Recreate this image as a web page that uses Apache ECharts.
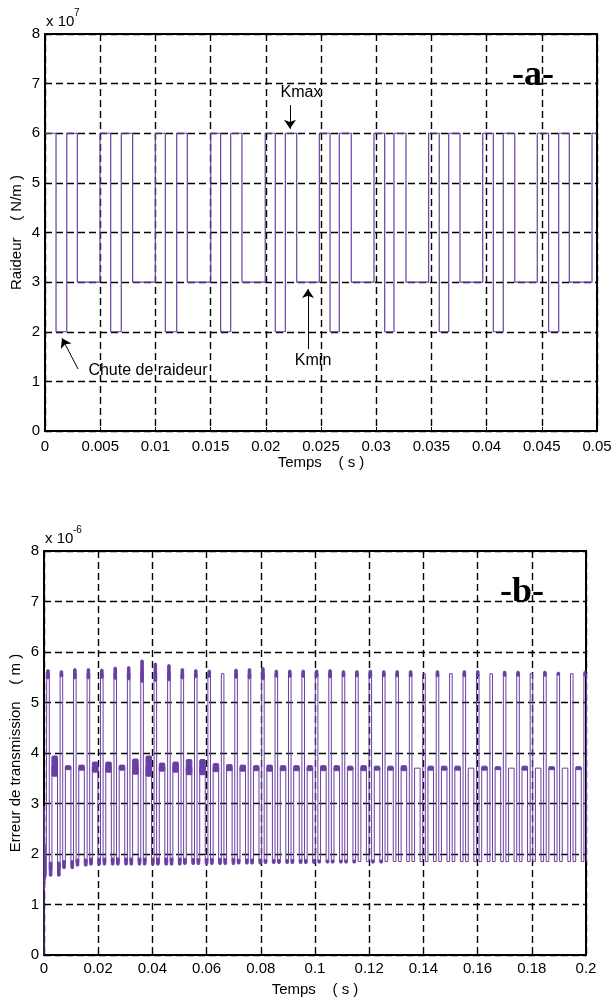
<!DOCTYPE html>
<html>
<head>
<meta charset="utf-8">
<script src="https://cdn.jsdelivr.net/npm/echarts@6/dist/echarts.min.js"></script>
<style>
  html, body { margin: 0; padding: 0; background: #fff; }
  #chart { width: 613px; height: 1001px; }
</style>
</head>
<body>
<div id="chart"></div>
<script>
// ---- (a) mesh stiffness, units of 1e7 N/m ----
// switching instants (s) and the level held from each instant on
const stiffTimes = [
  0.00000, 0.00100, 0.00197, 0.00293,
  0.00498, 0.00595, 0.00691, 0.00794,
  0.00999, 0.01090, 0.01193, 0.01289,
  0.01501, 0.01591, 0.01682, 0.01784,
  0.01995, 0.02086, 0.02177, 0.02280,
  0.02485, 0.02582, 0.02666, 0.02774,
  0.02980, 0.03077, 0.03161, 0.03270,
  0.03475, 0.03571, 0.03657, 0.03759,
  0.03965, 0.04061, 0.04151, 0.04255,
  0.04459, 0.04562, 0.04653, 0.04749,
  0.04955, 0.05000
];
const stiffLevels = [
  6, 2, 6, 3,
  6, 2, 6, 3,
  6, 2, 6, 3,
  6, 2, 6, 3,
  6, 2, 6, 3,
  6, 2, 6, 3,
  6, 2, 6, 3,
  6, 2, 6, 3,
  6, 2, 6, 3,
  6, 2, 6, 3,
  6, 6
];

// ---- (b) transmission error, units of 1e-6 m ----
// start-up transient before the first mesh pulse (ms, value)
const errTransientMs = [0, 0.05, 0.12, 0.20, 0.28, 0.37, 0.47, 0.58, 0.70, 0.85];
const errTransientV  = [0, 2.95, 1.30, 2.45, 1.40, 2.20, 1.50, 1.95, 1.55, 1.65];
// start of each high pulse (ms)
const errPulseStartMs = [
  1.00, 5.95, 10.90, 15.91, 20.86, 25.82, 30.77, 35.71, 40.61, 45.62,
  50.57, 55.53, 60.48, 65.44, 70.39, 75.35, 80.30, 85.26, 90.21, 95.17,
  100.12, 105.08, 110.03, 114.99, 119.94, 124.90, 129.85, 134.81, 139.76, 144.72,
  149.67, 154.63, 159.58, 164.54, 169.49, 174.45, 179.40, 184.36, 189.31, 194.27,
  199.22
];
// pulse end, middle plateau start, middle plateau end (ms after pulse start)
const errPhaseMs = [0.95, 1.93, 3.98];
// plateau levels per mesh cycle
const errPeak = [
  5.56, 5.57, 5.57, 5.57, 5.57, 5.58, 5.58, 5.62, 5.60, 5.59,
  5.57, 5.57, 5.57, 5.57, 5.57, 5.57, 5.57, 5.57, 5.57, 5.57,
  5.57, 5.57, 5.57, 5.57, 5.57, 5.57, 5.57, 5.57, 5.57, 5.57,
  5.57, 5.57, 5.57, 5.57, 5.57, 5.57, 5.57, 5.57, 5.57, 5.57,
  5.57
];
const errMid = [
  3.74, 3.71, 3.71, 3.72, 3.72, 3.71, 3.73, 3.74, 3.72, 3.72,
  3.72, 3.72, 3.71, 3.71, 3.70, 3.70, 3.70, 3.70, 3.70, 3.70,
  3.70, 3.70, 3.70, 3.70, 3.70, 3.70, 3.70, 3.70, 3.70, 3.70,
  3.70, 3.70, 3.70, 3.70, 3.70, 3.70, 3.70, 3.70, 3.70, 3.70,
  3.70
];
const errLow = [
  1.70, 1.79, 1.83, 1.85, 1.85, 1.85, 1.85, 1.85, 1.85, 1.85,
  1.85, 1.85, 1.85, 1.85, 1.85, 1.85, 1.85, 1.85, 1.85, 1.85,
  1.85, 1.85, 1.85, 1.85, 1.85, 1.85, 1.85, 1.85, 1.85, 1.85,
  1.85, 1.85, 1.85, 1.85, 1.85, 1.85, 1.85, 1.85, 1.85, 1.85,
  1.85
];
// half-amplitude of the ringing on each plateau
const errPeakRing = [
  0.09, 0.06, 0.10, 0.10, 0.09, 0.12, 0.13, 0.22, 0.18, 0.16,
  0.10, 0.08, 0.07, 0.00, 0.09, 0.10, 0.12, 0.07, 0.07, 0.07,
  0.07, 0.08, 0.06, 0.06, 0.07, 0.06, 0.06, 0.06, 0.00, 0.06,
  0.00, 0.06, 0.06, 0.00, 0.05, 0.05, 0.00, 0.05, 0.03, 0.00,
  0.05
];
const errMidRing = [
  0.20, 0.04, 0.05, 0.10, 0.10, 0.05, 0.15, 0.20, 0.08, 0.10,
  0.15, 0.15, 0.08, 0.06, 0.06, 0.05, 0.06, 0.05, 0.05, 0.05,
  0.05, 0.05, 0.04, 0.05, 0.04, 0.04, 0.05, 0.00, 0.04, 0.04,
  0.04, 0.00, 0.04, 0.03, 0.00, 0.04, 0.00, 0.03, 0.00, 0.03,
  0.00
];
const errLowRing = [
  0.14, 0.08, 0.07, 0.07, 0.07, 0.07, 0.07, 0.07, 0.07, 0.07,
  0.06, 0.06, 0.06, 0.06, 0.05, 0.05, 0.04, 0.04, 0.04, 0.04,
  0.03, 0.03, 0.03, 0.00, 0.03, 0.00, 0.00, 0.00, 0.00, 0.00,
  0.00, 0.00, 0.00, 0.00, 0.00, 0.00, 0.00, 0.00, 0.00, 0.00,
  0.00
];

// ---- tick labels ----
const xTickLabelsA = ['0', '0.005', '0.01', '0.015', '0.02', '0.025', '0.03', '0.035', '0.04', '0.045', '0.05'];
const xTickLabelsB = ['0', '0.02', '0.04', '0.06', '0.08', '0.1', '0.12', '0.14', '0.16', '0.18', '0.2'];
const yTickLabels = ['0', '1', '2', '3', '4', '5', '6', '7', '8'];

// ---- build the step curves ----
const stiffData = [];
for (let i = 0; i < stiffTimes.length; i++) {
  if (i > 0) stiffData.push([stiffTimes[i], stiffLevels[i - 1]]);
  stiffData.push([stiffTimes[i], stiffLevels[i]]);
}

const errData = [];
for (let i = 0; i < errTransientMs.length; i++) {
  errData.push([errTransientMs[i] / 1000, errTransientV[i]]);
}
let level = errTransientV[errTransientV.length - 1];
const blobs = [];
function addBlob(t0, t1, v, r) {
  if (r > 0) blobs.push([t0 / 1000, t1 / 1000, v - r, v + r]);
}
for (let k = 0; k < errPulseStartMs.length; k++) {
  const p = errPulseStartMs[k];
  const next = k + 1 < errPulseStartMs.length ? errPulseStartMs[k + 1] : p + 4.955;
  const edges = [
    [p, errPeak[k]],
    [p + errPhaseMs[0], errLow[k]],
    [p + errPhaseMs[1], errMid[k]],
    [p + errPhaseMs[2], errLow[k]]
  ];
  for (const [t, v] of edges) {
    errData.push([t / 1000, level]);
    errData.push([t / 1000, v]);
    level = v;
  }
  addBlob(p, p + errPhaseMs[0], errPeak[k], errPeakRing[k]);
  addBlob(p + errPhaseMs[0], p + errPhaseMs[1], errLow[k], errLowRing[k]);
  addBlob(p + errPhaseMs[1], p + errPhaseMs[2], errMid[k], errMidRing[k]);
  addBlob(p + errPhaseMs[2], next, errLow[k], errLowRing[k]);
}

// ---- chart ----
const FONT = 'Liberation Sans';
const PURPLE = '#6a3fa3';
const GRID_LINE = { color: '#000', width: 1.4, type: [7, 4] };

function xAxisFor(grid, max, step, labels, nameGap, margin) {
  return {
    gridIndex: grid, type: 'value', min: 0, max: max, interval: step,
    axisLine: { show: true, onZero: false, lineStyle: { color: '#000', width: 2 } },
    axisTick: { show: true, inside: true, length: 4, lineStyle: { color: '#000' } },
    axisLabel: {
      margin: margin, color: '#000', fontSize: 15, fontFamily: FONT,
      formatter: v => labels[Math.round(v / step)]
    },
    splitLine: { show: true, lineStyle: GRID_LINE },
    name: 'Temps    ( s )', nameLocation: 'middle', nameGap: nameGap,
    nameTextStyle: { color: '#000', fontSize: 15, fontFamily: FONT }
  };
}
function yAxisFor(grid, name) {
  return {
    gridIndex: grid, type: 'value', min: 0, max: 8, interval: 1,
    axisLine: { show: true, onZero: false, lineStyle: { color: '#000', width: 2 } },
    axisTick: { show: true, inside: true, length: 4, lineStyle: { color: '#000' } },
    axisLabel: {
      margin: 5, color: '#000', fontSize: 15, fontFamily: FONT,
      formatter: v => yTickLabels[Math.round(v)]
    },
    splitLine: { show: true, lineStyle: GRID_LINE },
    name: name, nameLocation: 'middle', nameGap: 21, nameRotate: 90,
    nameMoveOverlap: false,
    nameTextStyle: { color: '#000', fontSize: 15, fontFamily: FONT }
  };
}

const noteLabel = (size, family, weight) => ({
  show: true, position: 'inside', formatter: '{b}', color: '#000',
  fontSize: size, fontFamily: family, fontWeight: weight
});
const hiddenSymbol = { color: 'rgba(0,0,0,0)' };

const option = {
  animation: false,
  backgroundColor: '#fff',
  grid: [
    { left: 45, top: 34, width: 552, height: 397, show: true, borderColor: '#000', borderWidth: 2, containLabel: false, outerBoundsMode: 'none' },
    { left: 44, top: 551, width: 542, height: 404, show: true, borderColor: '#000', borderWidth: 2, containLabel: false, outerBoundsMode: 'none' }
  ],
  xAxis: [
    xAxisFor(0, 0.05, 0.005, xTickLabelsA, 23, 8),
    xAxisFor(1, 0.2, 0.02, xTickLabelsB, 27, 6)
  ],
  yAxis: [
    yAxisFor(0, 'Raideur    ( N/m )'),
    yAxisFor(1, 'Erreur de transmission    ( m )')
  ],
  series: [
    {
      type: 'line', xAxisIndex: 0, yAxisIndex: 0, data: stiffData,
      symbol: 'none', showSymbol: false, z: 3,
      lineStyle: { color: PURPLE, width: 1.2 },
      markLine: {
        silent: true, symbol: ['none', 'arrow'], symbolSize: 9,
        label: { show: false },
        lineStyle: { color: '#000', width: 1, type: 'solid' },
        data: [
          [{ coord: [0.02219, 6.57] }, { coord: [0.02219, 6.09] }],
          [{ coord: [0.02382, 1.65] }, { coord: [0.02382, 2.86] }],
          [{ coord: [0.00299, 1.25] }, { coord: [0.00154, 1.87] }]
        ]
      },
      markPoint: {
        silent: true, symbol: 'circle', symbolSize: 1, itemStyle: hiddenSymbol,
        data: [
          { name: 'Kmax', coord: [0.02319, 6.81], label: noteLabel(16, FONT, 'normal') },
          { name: 'Kmin', coord: [0.02428, 1.41], label: noteLabel(16, FONT, 'normal') },
          { name: 'Chute de raideur', coord: [0.00933, 1.21], label: noteLabel(16, FONT, 'normal') },
          { name: '-a-', coord: [0.0442, 7.15], label: noteLabel(36, 'Liberation Serif', 'bold') }
        ]
      }
    },
    {
      type: 'custom', xAxisIndex: 1, yAxisIndex: 1, data: blobs, clip: true, z: 2,
      encode: { x: [0, 1], y: [2, 3] },
      renderItem: function (params, api) {
        const a = api.coord([api.value(0), api.value(3)]);
        const b = api.coord([api.value(1), api.value(2)]);
        return {
          type: 'rect',
          shape: { x: a[0], y: a[1], width: b[0] - a[0], height: b[1] - a[1], r: 1 },
          style: { fill: PURPLE, stroke: PURPLE, lineWidth: 1 }
        };
      }
    },
    {
      type: 'line', xAxisIndex: 1, yAxisIndex: 1, data: errData,
      symbol: 'none', showSymbol: false, z: 3,
      lineStyle: { color: PURPLE, width: 1 },
      markPoint: {
        silent: true, symbol: 'circle', symbolSize: 1, itemStyle: hiddenSymbol,
        data: [
          { name: '-b-', coord: [0.1764, 7.17], label: noteLabel(36, 'Liberation Serif', 'bold') }
        ]
      }
    }
  ]
};

const chart = echarts.init(document.getElementById('chart'), null, { renderer: 'canvas' });
chart.setOption(option);

// scale-factor captions above each y axis
const cornerA = chart.convertToPixel({ xAxisIndex: 0, yAxisIndex: 0 }, [0, 8]);
const cornerB = chart.convertToPixel({ xAxisIndex: 1, yAxisIndex: 1 }, [0, 8]);
function caption(corner, exponent) {
  return [
    { type: 'text', x: corner[0] + 1, y: corner[1] - 12.5,
      style: { text: 'x 10', fill: '#000', font: '15px "Liberation Sans"', verticalAlign: 'middle' } },
    { type: 'text', x: corner[0] + 29, y: corner[1] - 20.5,
      style: { text: exponent, fill: '#000', font: '10px "Liberation Sans"', verticalAlign: 'middle' } }
  ];
}
chart.setOption({ graphic: caption(cornerA, '7').concat(caption(cornerB, '-6')) });
</script>
</body>
</html>
